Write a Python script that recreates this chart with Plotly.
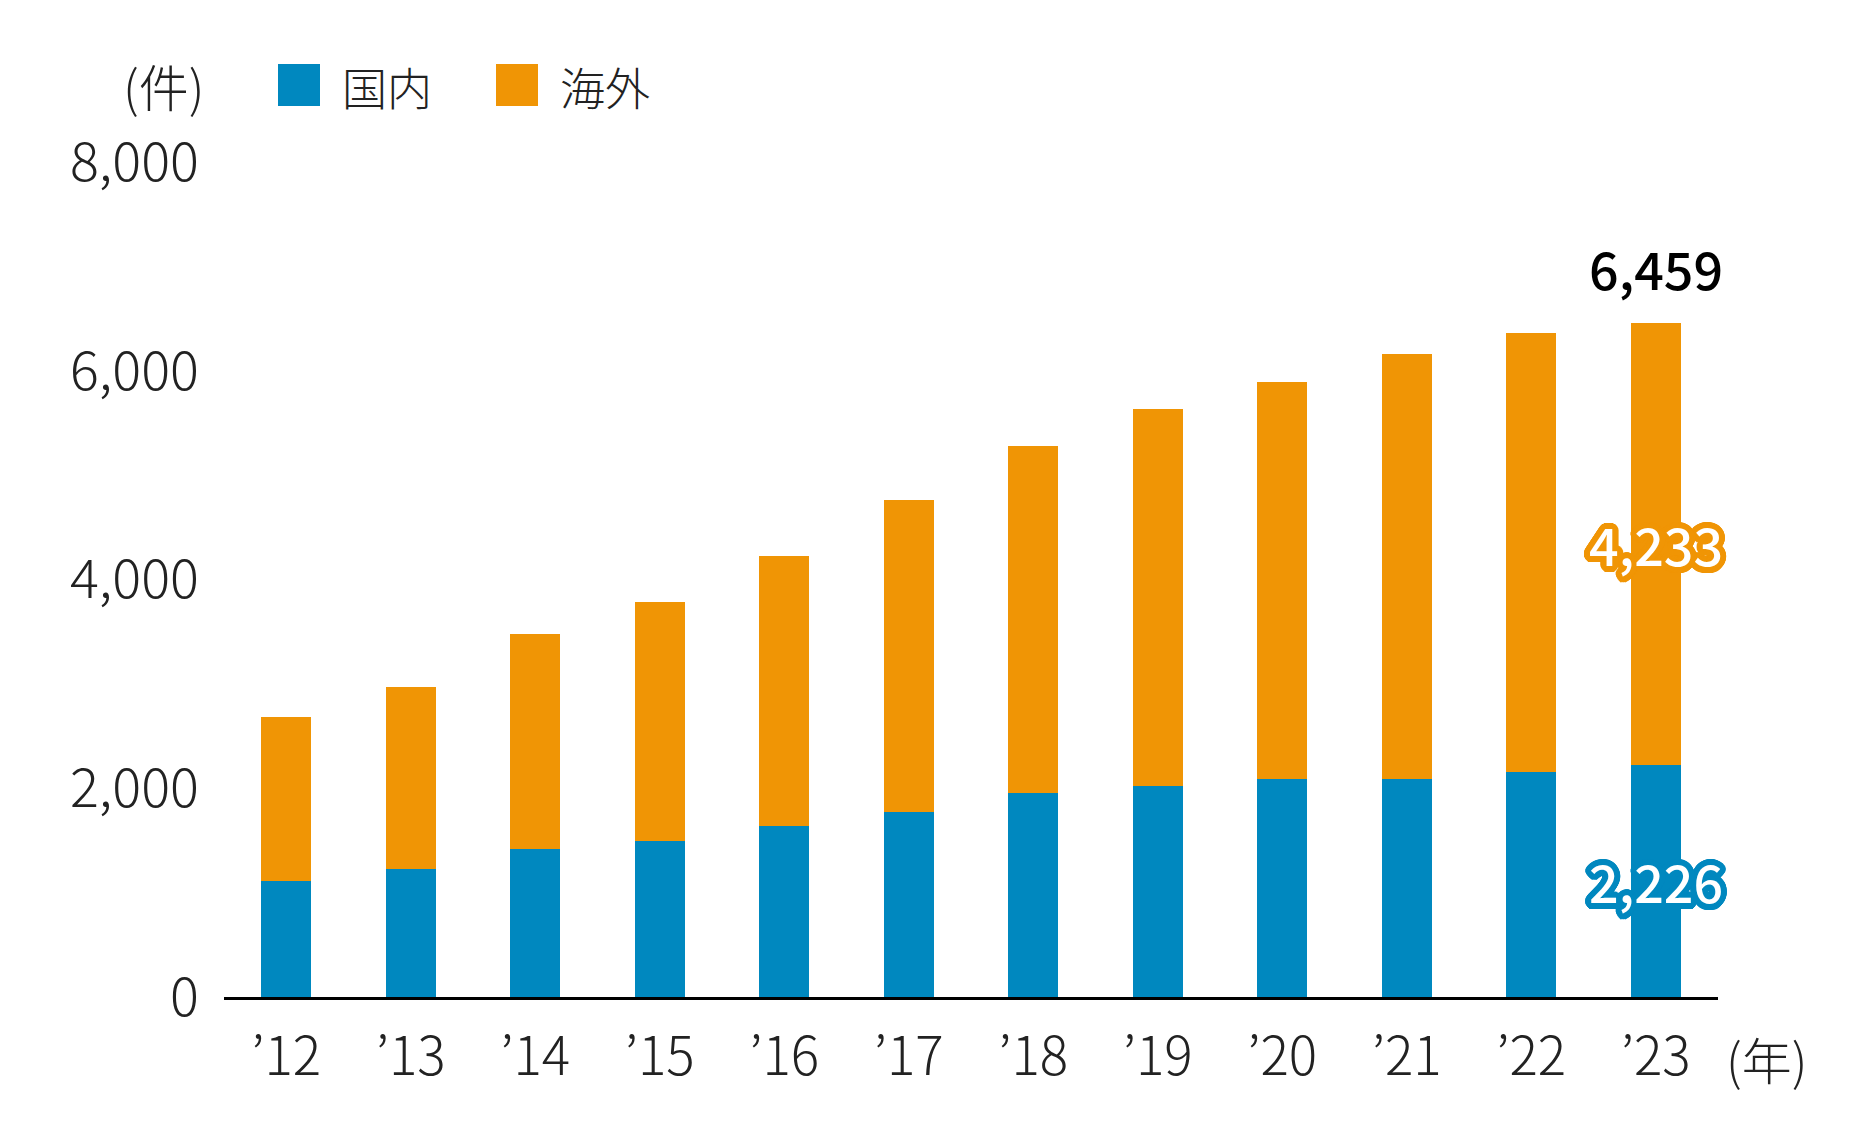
import numpy as np
import plotly.graph_objects as go

years = ["’12", "’13", "’14", "’15", "’16", "’17", "’18", "’19", "’20", "’21", "’22", "’23"]
domestic = [1109, 1223, 1417, 1497, 1634, 1771, 1954, 2023, 2091, 2091, 2160, 2226]
overseas = [1577, 1748, 2057, 2286, 2595, 2995, 3326, 3611, 3806, 4069, 4206, 4233]
y_ticks = [0, 2000, 4000, 6000, 8000]

BLUE = "#0088BF"
ORANGE = "#F09505"
FONT = "Noto Sans CJK JP"
LIGHT = "Noto Sans CJK JP Light, Noto Sans CJK JP"

W, H = 1870, 1143
L, R, T, B = 216, 160, 154, 154
PW, PH = W - L - R, H - T - B


def px(x, y):
    # pixel position -> paper coordinates
    return (x - L) / PW, (H - B - y) / PH


def outline(color, r=6):
    # fake a text stroke with a ring of css shadows
    parts = []
    for a in np.linspace(0, 2 * np.pi, 32, endpoint=False):
        parts.append(f"{r*np.cos(a):.1f}px {r*np.sin(a):.1f}px 0 {color}")
    return ", ".join(parts)


fig = go.Figure()
fig.add_trace(go.Bar(x=years, y=domestic, name="国内", marker=dict(color=BLUE, line=dict(width=0))))
fig.add_trace(go.Bar(x=years, y=overseas, name="海外", marker=dict(color=ORANGE, line=dict(width=0))))

last = years[-1]
total = domestic[-1] + overseas[-1]
fig.add_annotation(x=last, y=total, text=f"{total:,}", showarrow=False, yanchor="bottom", yshift=16,
                   font=dict(family=FONT, size=52, color="black", weight=500))
fig.add_annotation(x=last, y=domestic[-1] + overseas[-1] / 2, text=f"{overseas[-1]:,}", showarrow=False,
                   font=dict(family=FONT, size=52, color="white", weight=500, shadow=outline(ORANGE)))
fig.add_annotation(x=last, y=domestic[-1] / 2, text=f"{domestic[-1]:,}", showarrow=False,
                   font=dict(family=FONT, size=52, color="white", weight=500, shadow=outline(BLUE)))

# unit labels
ux, uy = px(1716, 1050)
fig.add_annotation(xref="paper", yref="paper", x=ux, y=uy, xanchor="left", yanchor="middle",
                   text="(年)", showarrow=False, font=dict(family=LIGHT, size=50, color="#222"))
ux, uy = px(199, 77)
fig.add_annotation(xref="paper", yref="paper", x=ux, y=uy, xanchor="right", yanchor="middle",
                   text="(件)", showarrow=False, font=dict(family=LIGHT, size=50, color="#222"))

# legend drawn by hand so the swatches can be large
legend = [("国内", BLUE, 270), ("海外", ORANGE, 488)]
for label, color, x0 in legend:
    ax0, ay0 = px(x0, 56)
    ax1, ay1 = px(x0 + 42, 98)
    fig.add_shape(type="rect", xref="paper", yref="paper", x0=ax0, x1=ax1, y0=ay0, y1=ay1,
                  fillcolor=color, line=dict(width=0))
    tx, ty = px(x0 + 62, 78)
    fig.add_annotation(xref="paper", yref="paper", x=tx, y=ty, xanchor="left", yanchor="middle",
                       text=label, showarrow=False, font=dict(family=LIGHT, size=45, color="#222"))

fig.update_layout(
    width=W, height=H,
    margin=dict(l=L, r=R, t=T, b=B),
    barmode="stack", bargap=0.6,
    showlegend=False,
    plot_bgcolor="white", paper_bgcolor="white",
    font=dict(family=LIGHT, size=53, color="#222"),
)
fig.update_xaxes(showline=True, linecolor="black", linewidth=2.5, ticks="", showgrid=False,
                 range=[-0.5, 11.5], ticklabelstandoff=12,
                 tickfont=dict(family=LIGHT, size=53, color="#222"))
fig.update_yaxes(range=[0, 8000], tickvals=y_ticks, tickformat=",", showgrid=False, zeroline=False,
                 showline=False, ticklabelstandoff=24,
                 tickfont=dict(family=LIGHT, size=54, color="#222"))

fig.write_html("out.html")
